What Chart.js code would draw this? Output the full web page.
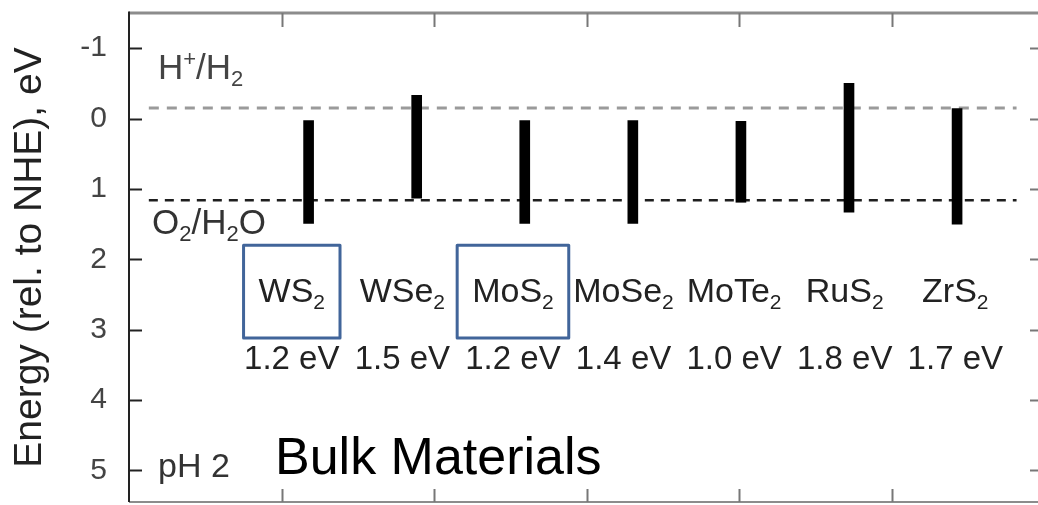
<!DOCTYPE html>
<html>
<head>
<meta charset="utf-8">
<script src="https://cdn.jsdelivr.net/npm/chart.js@4.4.1/dist/chart.umd.min.js"></script>
<style>
  html, body { margin: 0; padding: 0; background: #fff; overflow: hidden; }
  #wrap { width: 1038px; height: 505px; overflow: hidden; position: relative; }
  canvas { display: block; }
</style>
</head>
<body>
<div id="wrap"><canvas id="chart" width="1060" height="505"></canvas></div>
<script>
// Band edges of bulk layered dichalcogenides, energy relative to NHE at pH 2.
// '_' marks the next character as a subscript, '^' as a superscript.
const materials = ['WS_2', 'WSe_2', 'MoS_2', 'MoSe_2', 'MoTe_2', 'RuS_2', 'ZrS_2'];
const bandGaps = [1.2, 1.5, 1.2, 1.4, 1.0, 1.8, 1.7];
const conductionBand = [0.03, -0.33, 0.03, 0.03, 0.04, -0.50, -0.14];
const valenceBand = [1.49, 1.13, 1.49, 1.49, 1.19, 1.33, 1.50];
const highlighted = ['WS_2', 'MoS_2'];
const hydrogenLevel = -0.15;   // H+/H2
const oxygenLevel = 1.16;      // O2/H2O
const yTicks = [-1, 0, 1, 2, 3, 4, 5];

const FONT = '"Liberation Sans", Arial, Helvetica, sans-serif';

// ---- rich text helpers (sub/superscripts) ----
function parseRich(str) {
  const runs = [];
  let i = 0;
  while (i < str.length) {
    const ch = str[i];
    if ((ch === '_' || ch === '^') && i + 1 < str.length) {
      runs.push({ t: str[i + 1], mode: ch === '_' ? 'sub' : 'sup' });
      i += 2;
    } else {
      const last = runs[runs.length - 1];
      if (last && last.mode === 'n') last.t += ch; else runs.push({ t: ch, mode: 'n' });
      i++;
    }
  }
  return runs;
}
function runFont(run, size) {
  return (run.mode === 'n' ? size : Math.round(size * 0.62)) + 'px ' + FONT;
}
function richWidth(ctx, str, size) {
  let w = 0;
  for (const r of parseRich(str)) { ctx.font = runFont(r, size); w += ctx.measureText(r.t).width; }
  return w;
}
// draws text whose capital letters are vertically centred on cy
function drawRich(ctx, str, x, cy, size, color, align) {
  const base = cy + 0.358 * size;
  let cx = x;
  const w = richWidth(ctx, str, size);
  if (align === 'center') cx = x - w / 2;
  ctx.save();
  ctx.fillStyle = color;
  ctx.textAlign = 'left';
  ctx.textBaseline = 'alphabetic';
  for (const r of parseRich(str)) {
    ctx.font = runFont(r, size);
    let y = base;
    if (r.mode === 'sub') y = base + 0.2 * size;
    if (r.mode === 'sup') y = base - 0.36 * size;
    ctx.fillText(r.t, cx, y);
    cx += ctx.measureText(r.t).width;
  }
  ctx.restore();
  return w;
}

// ---- frame with inward tick marks ----
const framePlugin = {
  id: 'frame',
  afterDatasetsDraw(chart) {
    const { ctx, chartArea: a, scales } = chart;
    const x = scales.x, y = scales.y;
    ctx.save();
    // top, bottom and right borders
    ctx.strokeStyle = '#8c8c8c';
    ctx.lineWidth = 3;
    ctx.beginPath(); ctx.moveTo(a.left, a.top); ctx.lineTo(a.right, a.top); ctx.stroke();
    ctx.lineWidth = 2;
    ctx.beginPath(); ctx.moveTo(a.left, a.bottom); ctx.lineTo(a.right, a.bottom); ctx.stroke();
    ctx.beginPath(); ctx.moveTo(a.right, a.top); ctx.lineTo(a.right, a.bottom); ctx.stroke();
    // left axis
    ctx.strokeStyle = '#222';
    ctx.lineWidth = 2;
    ctx.beginPath(); ctx.moveTo(a.left, a.top - 1.5); ctx.lineTo(a.left, a.bottom); ctx.stroke();
    // y ticks, left and right
    for (const v of yTicks) {
      const py = Math.round(y.getPixelForValue(v)) + 0.5;
      ctx.strokeStyle = '#222'; ctx.lineWidth = 2;
      ctx.beginPath(); ctx.moveTo(a.left, py); ctx.lineTo(a.left + 13, py); ctx.stroke();
      ctx.strokeStyle = '#777';
      ctx.beginPath(); ctx.moveTo(a.right - 14, py); ctx.lineTo(a.right, py); ctx.stroke();
    }
    // x ticks, top and bottom
    for (let v = Math.ceil(x.min) + 1; v < x.max; v++) {
      const px = Math.round(x.getPixelForValue(v)) + 0.5;
      ctx.strokeStyle = '#777'; ctx.lineWidth = 2;
      ctx.beginPath(); ctx.moveTo(px, a.top); ctx.lineTo(px, a.top + 14); ctx.stroke();
      ctx.beginPath(); ctx.moveTo(px, a.bottom); ctx.lineTo(px, a.bottom - 13); ctx.stroke();
    }
    ctx.restore();
  }
};

// ---- material names, band gaps and potential labels ----
const labelPlugin = {
  id: 'labels',
  afterDatasetsDraw(chart) {
    const { ctx, chartArea: a, scales } = chart;
    const y = scales.y, xl = scales.xl;
    const nameY = y.getPixelForValue(2.44);
    const gapY = y.getPixelForValue(3.39);
    materials.forEach((m, i) => {
      const cx = xl.getPixelForValue(i);
      const w = drawRich(ctx, m, cx, nameY, 34, '#222', 'center');
      drawRich(ctx, bandGaps[i].toFixed(1) + ' eV', cx, gapY, 33, '#222', 'center');
      if (highlighted.includes(m)) {
        const top = y.getPixelForValue(1.80), bottom = y.getPixelForValue(3.12);
        const pad = 15;
        ctx.save();
        ctx.strokeStyle = '#41659a';
        ctx.lineWidth = 3;
        ctx.lineJoin = 'round';
        ctx.strokeRect(cx - w / 2 - pad, top, w + 2 * pad, bottom - top);
        ctx.restore();
      }
    });
    drawRich(ctx, 'H^+/H_2', a.left + 29, y.getPixelForValue(-0.745), 35, '#444', 'left');
    drawRich(ctx, 'O_2/H_2O', a.left + 23, y.getPixelForValue(1.46), 35, '#333', 'left');
    drawRich(ctx, 'pH 2', a.left + 29, y.getPixelForValue(4.92), 34, '#333', 'left');
    drawRich(ctx, 'Bulk Materials', a.left + 146, y.getPixelForValue(4.79), 52, '#000', 'left');
  }
};

const levelLine = (level, color, width, dash) => ({
  type: 'line',
  xAxisID: 'x',
  yAxisID: 'y',
  data: [{ x: 0.13, y: level }, { x: 5.82, y: level }],
  borderColor: color,
  borderWidth: width,
  borderDash: dash,
  pointRadius: 0,
  fill: false,
  order: 2
});

const hiddenX = (min, max) => ({
  type: 'linear', display: false, offset: false, grid: { offset: false }, min, max
});

new Chart(document.getElementById('chart'), {
  type: 'bar',
  data: {
    datasets: [
      {
        type: 'bar',
        label: 'Band edges',
        xAxisID: 'xb',
        yAxisID: 'y',
        data: materials.map((m, i) => ({ x: i, y: [conductionBand[i], valenceBand[i]] })),
        backgroundColor: '#000',
        borderWidth: 0,
        barThickness: 10,
        order: 0
      },
      levelLine(hydrogenLevel, '#9a9a9a', 3, [10, 8]),
      levelLine(oxygenLevel, '#1e1e1e', 2.5, [9, 7])
    ]
  },
  options: {
    responsive: false,
    devicePixelRatio: 1,
    animation: false,
    layout: { padding: { left: 0, top: 13, right: 16, bottom: 3 } },
    plugins: { legend: { display: false }, tooltip: { enabled: false } },
    scales: {
      x: hiddenX(0, 6),
      xb: hiddenX(-1.708, 6.758),
      xl: hiddenX(-1.472, 6.802),
      y: {
        type: 'linear',
        reverse: true,
        beginAtZero: false,
        min: -1.5,
        max: 5.45,
        afterBuildTicks: s => { s.ticks = yTicks.map(v => ({ value: v })); },
        afterFit: s => { s.width = 129; s.paddingTop = 0; s.paddingBottom = 0; },
        grid: { display: false, drawTicks: false },
        border: { display: false },
        ticks: {
          padding: 22,
          color: '#444',
          font: { family: FONT, size: 30 },
          callback: v => String(v)
        },
        title: {
          display: true,
          text: 'Energy (rel. to NHE), eV',
          color: '#222',
          font: { family: FONT, size: 39 },
          padding: { top: 7, bottom: 0 }
        }
      }
    }
  },
  plugins: [framePlugin, labelPlugin]
});
</script>
</body>
</html>
